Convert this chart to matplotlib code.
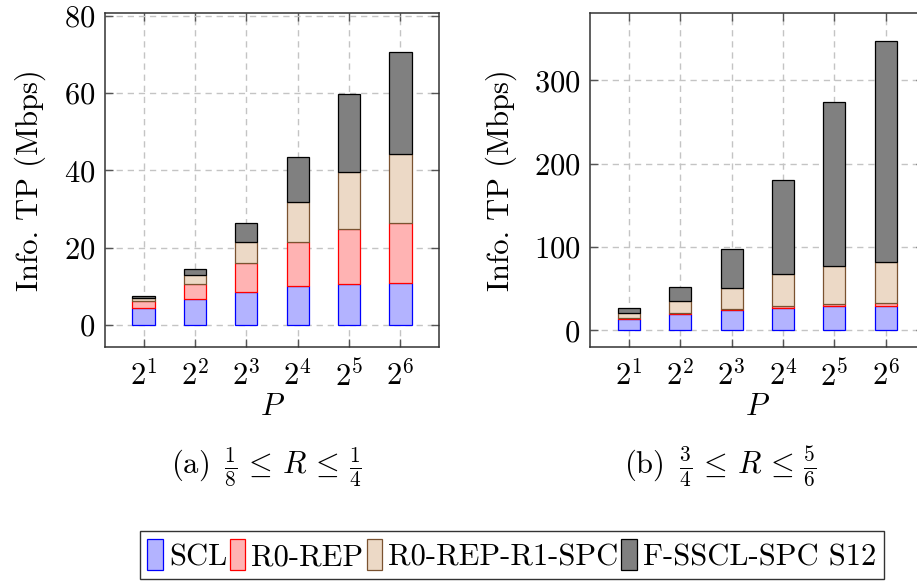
import numpy as np
from matplotlib import pyplot as plt

plt.rcParams['font.family'] = 'serif'
plt.rcParams['font.serif'] = ['cmr10']
plt.rcParams['mathtext.fontset'] = 'cm'
plt.rcParams['axes.formatter.use_mathtext'] = True
plt.rcParams['font.size'] = 22

# Data (segment heights of the stacked bars, Mbps)
p_labels = ['$2^1$', '$2^2$', '$2^3$', '$2^4$', '$2^5$', '$2^6$']
series = ['SCL', 'R0-REP', 'R0-REP-R1-SPC', 'F-SSCL-SPC S12']

# (a) 1/8 <= R <= 1/4
low_scl = [4.3, 6.65, 8.6, 10.0, 10.6, 10.9]
low_rep = [1.9, 3.95, 7.5, 11.4, 14.2, 15.6]
low_spc = [0.9, 2.3, 5.4, 10.5, 14.9, 17.7]
low_fsscl = [0.4, 1.5, 4.8, 11.7, 20.2, 26.6]

# (b) 3/4 <= R <= 5/6
high_scl = [13.2, 19.6, 24.0, 27.2, 28.8, 29.2]
high_rep = [1.2, 1.6, 2.0, 2.4, 2.8, 3.7]
high_spc = [6.8, 13.7, 25.3, 37.7, 45.3, 49.2]
high_fsscl = [5.6, 17.2, 46.9, 112.6, 197.1, 265.7]

faces = [(0.7, 0.7, 1.0), (1.0, 0.7, 0.7), (0.925, 0.85, 0.775), (0.5, 0.5, 0.5)]
edges = ['blue', 'red', '#7a5230', 'black']


def draw_panel(ax, stacks, ylim, yticks):
    x = np.arange(1, len(p_labels) + 1)
    bottom = np.zeros(len(x))
    handles = []
    for vals, fc, ec, name in zip(stacks, faces, edges, series):
        h = ax.bar(x, vals, width=0.43, bottom=bottom, color=fc,
                   edgecolor=ec, linewidth=0.9, label=name, zorder=3)
        handles.append(h)
        bottom = bottom + np.array(vals)
    ax.set_xlim(0.25, 6.75)
    ax.set_ylim(*ylim)
    ax.set_xticks(x)
    ax.set_xticklabels(p_labels)
    ax.set_yticks(yticks)
    ax.grid(True, color='#c4c4c4', linestyle=(0, (4.5, 3.5)), linewidth=1.0, zorder=0)
    ax.tick_params(direction='in', length=5.5, width=1.0, color='#555555',
                   top=True, right=True, pad=7)
    ax.tick_params(axis='x', pad=9)
    for s in ax.spines.values():
        s.set_linewidth(1.1)
        s.set_color('#333333')
    ax.set_ylabel('Info. TP (Mbps)', ha='center', va='center')
    ax.set_xlabel('$P$', ha='center', va='center')
    ax.xaxis.set_label_coords(0.5, -0.18)
    return handles


fig = plt.figure(figsize=(9.17, 5.83), dpi=100)
ax1 = fig.add_axes([105 / 917, 236 / 583, 334 / 917, 333.7 / 583])
ax2 = fig.add_axes([590.3 / 917, 236 / 583, 334 / 917, 333.7 / 583])

handles = draw_panel(ax1, [low_scl, low_rep, low_spc, low_fsscl],
                     (-5.7, 80.7), [0, 20, 40, 60, 80])
draw_panel(ax2, [high_scl, high_rep, high_spc, high_fsscl],
           (-20, 380.6), [0, 100, 200, 300])
ax1.yaxis.set_label_coords((30 - 105) / 334, 0.5)
ax2.yaxis.set_label_coords((501 - 590.3) / 334, 0.5)

fig.text(266 / 917, (583 - 467) / 583,
         r'(a) $\,\frac{1}{8} \,\leq\, R \,\leq\, \frac{1}{4}$', ha='center', va='center')
fig.text(720 / 917, (583 - 467) / 583,
         r'(b) $\,\frac{3}{4} \,\leq\, R \,\leq\, \frac{5}{6}$', ha='center', va='center')

leg = fig.legend(handles, series, loc='center', bbox_to_anchor=(0.558, 0.048),
                 ncol=4, frameon=True, fancybox=False, edgecolor='black',
                 handlelength=0.5, handleheight=1.2, handletextpad=0.2,
                 columnspacing=0.1, borderpad=0.25, borderaxespad=0)
leg.get_frame().set_linewidth(1.0)

fig.savefig('out.png', dpi=100)
